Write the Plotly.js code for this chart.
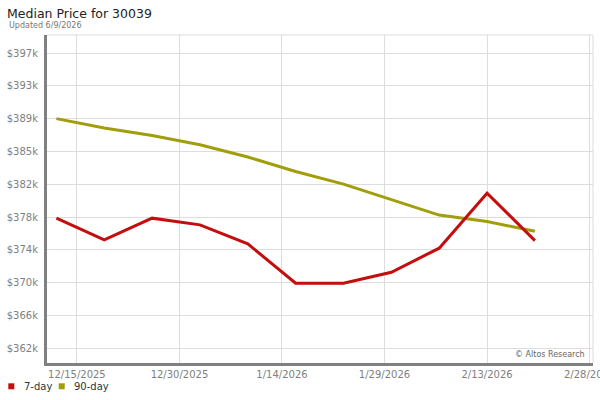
<!DOCTYPE html>
<html>
<head>
<meta charset="utf-8">
<script src="https://cdn.plot.ly/plotly-3.0.1.min.js"></script>
<style>html,body{margin:0;padding:0;background:#fff;}#chart{width:600px;height:400px;}</style>
</head>
<body>
<div id="chart"></div>
<script>
// ---- data ----
var dates = ['2025-12-12','2025-12-19','2025-12-26','2026-01-02','2026-01-09','2026-01-16','2026-01-23','2026-01-30','2026-02-06','2026-02-13','2026-02-20'];
var sevenDay = [377520, 374940, 377520, 376720, 374460, 369780, 369780, 371090, 373950, 380490, 374850];
var ninetyDay = [389350, 388230, 387350, 386240, 384780, 383060, 381560, 379700, 377880, 377110, 375970];
var seriesNames = ['7-day', '90-day'];
var yTickVals = [362050, 365950, 369850, 373750, 377650, 381550, 385450, 389350, 393250, 397150];
var yTickText = ['$362k','$366k','$370k','$374k','$378k','$382k','$385k','$389k','$393k','$397k'];
var xTickVals = ['2025-12-15','2025-12-30','2026-01-14','2026-01-29','2026-02-13','2026-02-28'];
var xTickText = ['12/15/2025','12/30/2025','1/14/2026','1/29/2026','2/13/2026','2/28/2026'];
var titleText = 'Median Price for 30039';
var subtitleText = 'Updated 6/9/2026';
var creditText = '\u00A9 Altos Research';

// ---- layout helpers ----
var W = 600, H = 400, M = {l: 47, r: 7, t: 35, b: 37};
var pw = W - M.l - M.r, ph = H - M.t - M.b;
function px2x(px) { return (px - M.l) / pw; }
function py2y(py) { return (H - M.b - py) / ph; }

var FONT = 'DejaVu Sans, sans-serif';
var RED = '#c40d0d', OLIVE = '#a19d0b';

var traces = [
  {x: dates, y: sevenDay, name: seriesNames[0], type: 'scatter', mode: 'lines',
   line: {color: RED, width: 3}, showlegend: false, hoverinfo: 'x+y'},
  {x: dates, y: ninetyDay, name: seriesNames[1], type: 'scatter', mode: 'lines',
   line: {color: OLIVE, width: 3}, showlegend: false, hoverinfo: 'x+y'}
];
// draw 90-day below? reference shows red crossing over olive
traces = [traces[1], traces[0]];

var layout = {
  width: W, height: H,
  margin: M,
  paper_bgcolor: '#ffffff',
  plot_bgcolor: '#ffffff',
  font: {family: FONT, size: 10, color: '#808080'},
  title: {
    text: titleText,
    font: {family: FONT, size: 12.5, color: '#222222'},
    xref: 'container', x: 7 / W, xanchor: 'left',
    yref: 'container', y: 1 - 13.5 / H, yanchor: 'middle'
  },
  xaxis: {
    type: 'date',
    range: ['2025-12-10 15:00', '2026-02-28 12:00'],
    tickmode: 'array', tickvals: xTickVals, ticktext: xTickText,
    showgrid: true, gridcolor: '#dddddd', gridwidth: 1,
    showline: true, linecolor: '#808080', linewidth: 3,
    ticks: '', zeroline: false,
    ticklabeloverflow: 'allow',
    tickfont: {family: FONT, size: 10, color: '#808080'}
  },
  yaxis: {
    range: [360300, 399290],
    tickmode: 'array', tickvals: yTickVals, ticktext: yTickText,
    showgrid: true, gridcolor: '#dddddd', gridwidth: 1,
    showline: true, linecolor: '#808080', linewidth: 3,
    ticks: '', zeroline: false,
    ticklabelstandoff: 4,
    tickfont: {family: FONT, size: 10, color: '#808080'}
  },
  shapes: [
    {type: 'line', xref: 'paper', yref: 'paper', x0: 0, x1: 1, y0: 1, y1: 1, line: {color: '#dddddd', width: 1}},
    {type: 'line', xref: 'paper', yref: 'paper', x0: 1, x1: 1, y0: 0, y1: 1, line: {color: '#dddddd', width: 1}},
    {type: 'rect', xref: 'paper', yref: 'paper', x0: px2x(8.3), x1: px2x(14.3), y0: py2y(389.3), y1: py2y(383.3), fillcolor: RED, line: {width: 0}},
    {type: 'rect', xref: 'paper', yref: 'paper', x0: px2x(58.7), x1: px2x(64.7), y0: py2y(389.3), y1: py2y(383.3), fillcolor: OLIVE, line: {width: 0}}
  ],
  annotations: [
    {text: subtitleText, xref: 'paper', yref: 'paper', x: px2x(7), y: py2y(25.5),
     xanchor: 'left', yanchor: 'middle', showarrow: false,
     font: {family: FONT, size: 8, color: '#777777'}},
    {text: creditText, xref: 'paper', yref: 'paper', x: px2x(587), y: py2y(354),
     xanchor: 'right', yanchor: 'middle', showarrow: false,
     font: {family: FONT, size: 8, color: '#666666'}},
    {text: seriesNames[0], xref: 'paper', yref: 'paper', x: px2x(21.5), y: py2y(386.5),
     xanchor: 'left', yanchor: 'middle', showarrow: false,
     font: {family: FONT, size: 10, color: '#333333'}},
    {text: seriesNames[1], xref: 'paper', yref: 'paper', x: px2x(72), y: py2y(386.5),
     xanchor: 'left', yanchor: 'middle', showarrow: false,
     font: {family: FONT, size: 10, color: '#333333'}}
  ],
  showlegend: false
};

Plotly.newPlot('chart', traces, layout, {displayModeBar: false, staticPlot: true});
</script>
</body>
</html>
